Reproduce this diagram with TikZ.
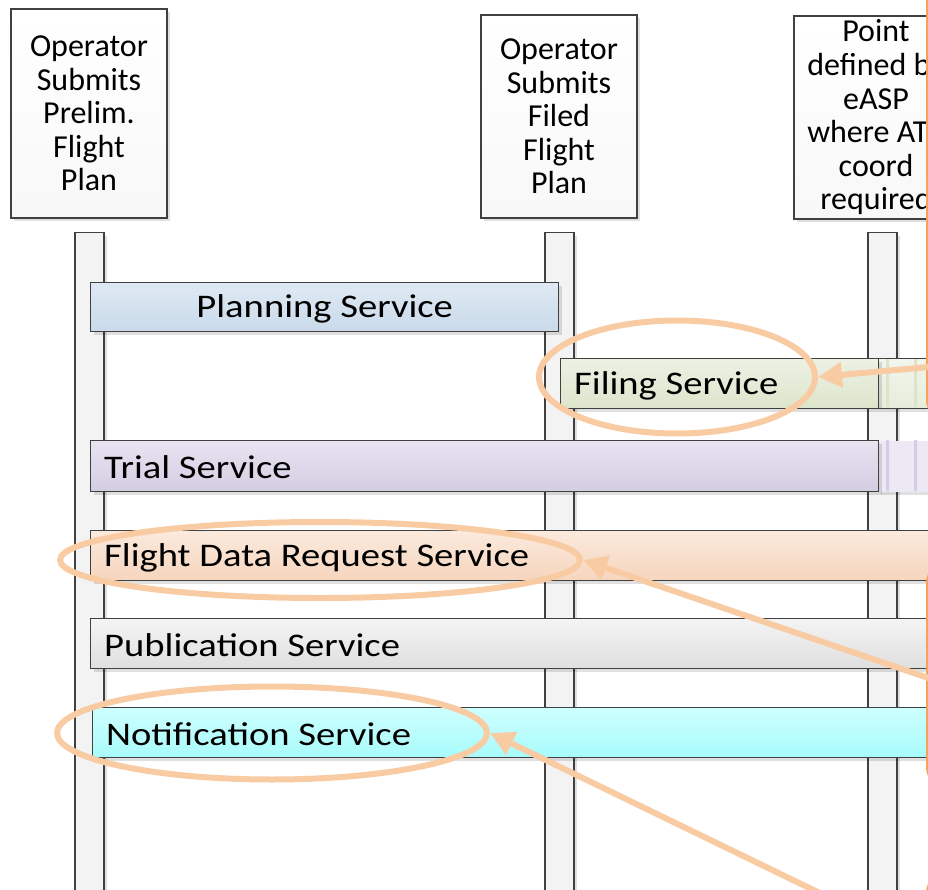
\documentclass[tikz,border=0pt]{standalone}
\usepackage{fontspec}
\setmainfont{Carlito}
\newfontfamily\barfont[FakeStretch=1.17]{Carlito}
\usetikzlibrary{arrows.meta,shadows,shapes.geometric}

\definecolor{edge}{HTML}{404040}
\definecolor{lane}{HTML}{F3F3F3}
\definecolor{peach}{HTML}{F9CBA3}
\definecolor{rim}{HTML}{F4A25C}
\definecolor{planTop}{HTML}{DFE9F3}
\definecolor{planBot}{HTML}{C9DAEA}
\definecolor{fileTop}{HTML}{EDF1E4}
\definecolor{fileBot}{HTML}{DCE5CB}
\definecolor{trialTop}{HTML}{E8E4F1}
\definecolor{trialBot}{HTML}{D4CDE3}
\definecolor{fdrTop}{HTML}{FBEADD}
\definecolor{fdrBot}{HTML}{F6D5BD}
\definecolor{pubTop}{HTML}{F4F4F4}
\definecolor{pubBot}{HTML}{DFDFDF}
\definecolor{noteTop}{HTML}{CEFFFF}
\definecolor{noteBot}{HTML}{A8FBFB}

\tikzset{
  shade/.style={drop shadow={shadow xshift=3pt, shadow yshift=-3pt, fill=black, opacity=0.12}},
  headbox/.style={draw=edge, line width=1.4pt, top color=white, bottom color=lane!60,
    shade, minimum width=156pt, inner sep=0pt, align=center,
    font=\fontsize{32}{33.6}\selectfont},
  lifeline/.style={draw=edge, line width=1.4pt, fill=lane, shade,
    minimum width=29pt, minimum height=700pt, inner sep=0pt, anchor=north},
  bar/.style={draw=edge, line width=1.4pt, shade, inner sep=0pt, anchor=north west},
  bartext/.style={font=\barfont\fontsize{33}{36}\selectfont, inner sep=0pt},
  ring/.style={draw=peach, line width=6pt, ellipse, inner sep=0pt},
  hint/.style={draw=peach, line width=6pt, -{Triangle[length=24pt,width=24pt]}},
}

\begin{document}
\begin{tikzpicture}[x=1pt,y=-1pt]
\useasboundingbox (0,0) rectangle (928,890);
\clip (0,0) rectangle (928,890);
\fill[white] (0,0) rectangle (928,890);

% header boxes
\node[headbox, minimum height=209pt] (h1) at (89,113.5)
  {Operator\\Submits\\Prelim.\\Flight\\Plan};
\node[headbox, minimum height=203pt] (h2) at (559,116.5)
  {Operator\\Submits\\Filed\\Flight\\Plan};
\node[headbox, minimum height=203pt, minimum width=164pt] (h3) at (876,117.5)
  {Point\\defined by\\eASP\\where ATC\\coord\\required};

% lifelines
\node[lifeline] (l1) at (89.5,232) {};
\node[lifeline] (l2) at (559.5,232) {};
\node[lifeline] (l3) at (882.5,232) {};

% service bars
\node[bar, top color=planTop, bottom color=planBot, minimum width=468pt, minimum height=49pt] (plan) at (90,282) {};
\node[bartext] at ([yshift=-2pt]plan.center) {Planning Service};

\node[bar, top color=fileTop!70, bottom color=fileBot!70, minimum width=80pt, minimum height=50pt] (fileX) at (878,358) {};
\fill[fileBot] (886,359) rectangle (889,407) (914,359) rectangle (917,407);
\node[bar, top color=fileTop, bottom color=fileBot, minimum width=318pt, minimum height=50pt] (file) at (560,358) {};
\node[bartext, anchor=west] at ([xshift=14pt,yshift=-2pt]file.west) {Filing Service};

\node[bar, draw=none, fill=trialTop!80, minimum width=80pt, minimum height=51pt] (trialX) at (877,440) {};
\fill[trialBot] (886,440) rectangle (889,491) (914,440) rectangle (917,491);
\node[bar, top color=trialTop, bottom color=trialBot, minimum width=788pt, minimum height=51pt] (trial) at (90,440) {};
\node[bartext, anchor=west] at ([xshift=14pt,yshift=-1pt]trial.west) {Trial Service};

\node[bar, top color=fdrTop, bottom color=fdrBot, minimum width=860pt, minimum height=50pt] (fdr) at (90,530) {};
\node[bartext, anchor=west] at ([xshift=14pt,yshift=-2pt]fdr.west) {Flight Data Request Service};

\node[bar, top color=pubTop, bottom color=pubBot, minimum width=860pt, minimum height=50pt] (pub) at (90,618) {};
\node[bartext, anchor=west] at ([xshift=14pt,yshift=-1pt]pub.west) {Publication Service};

\node[bar, top color=noteTop, bottom color=noteBot, minimum width=860pt, minimum height=50pt] (note) at (92,707) {};
\node[bartext, anchor=west] at ([xshift=14pt,yshift=-2pt]note.west) {Notification Service};

% highlight frames on the right
\draw[rim, line width=2pt, rounded corners=20pt] (927,-60) rectangle (1100,420);
\draw[rim, line width=2pt, rounded corners=20pt] (927,563) rectangle (1100,787);
\draw[rim, line width=2pt, rounded corners=20pt] (927,873) rectangle (1100,1100);

% rings round the services
\node[ring, minimum width=276pt, minimum height=113pt] (fileRing) at (677,377) {};
\node[ring, minimum width=520pt, minimum height=76pt] (fdrRing) at (320,560) {};
\node[ring, minimum width=430pt, minimum height=93pt] (noteRing) at (272,733) {};

% pointers into the rings
\coordinate (fileFrom) at (940,366);
\coordinate (fdrFrom) at (940,682);
\coordinate (noteFrom) at (900,932);
\draw[hint] (fileFrom) -- (fileRing.east);
\draw[hint] (fdrFrom) -- (fdrRing.east);
\draw[hint] (noteFrom) -- (noteRing.east);
\end{tikzpicture}
\end{document}
